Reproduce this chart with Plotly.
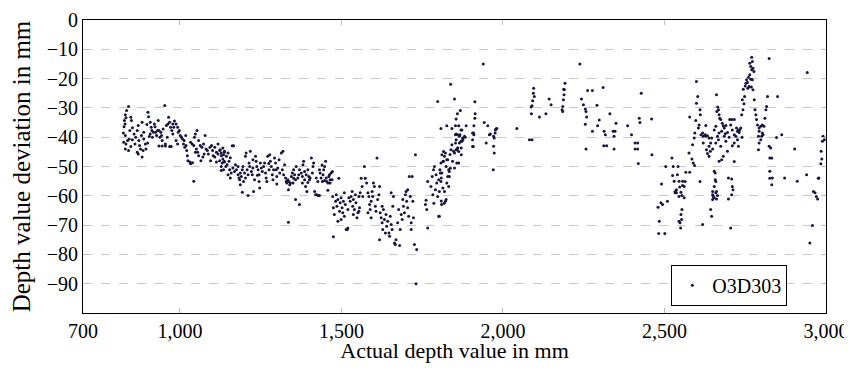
import plotly.graph_objects as go

# Actual depth (mm), depth deviation (mm) pairs, grouped by depth range
seg_820_1140 = [
(841,-29.5),(835,-30.9),(831,-32.3),(833,-33.4),(828,-34.3),(830,-35.5),(827,-36.4),(825,-38.6),(831,-39.4),(826,-41.7),
(833,-42.3),(838,-41.1),(843,-40.6),(848,-33.2),(850,-34.3),(853,-36.8),(831,-44.0),(841,-44.5),(848,-43.2),(853,-40.9),
(845,-37.7),(858,-38.9),(863,-40),(868,-37.7),(871,-36),(873,-41.1),(875,-42.8),(878,-44),(868,-45.1),(871,-45.7),
(883,-46.8),(888,-40.6),(883,-34.9),(893,-42.3),(888,-38.3),(861,-42.3),(881,-39.4),(886,-44.5),(901,-31.5),(903,-33),
(898,-35.7),(908,-34.9),(911,-36.6),(908,-38.9),(913,-37.7),(918,-38.3),(923,-36.4),(928,-39.4),(933,-34.3),(931,-37.7),
(921,-35.5),(895,-44),(905,-39.8),(915,-40),(925,-38.3),(935,-37.7),(941,-38.3),(943,-39.4),(948,-37.2),(953,-29.2),
(955,-42.3),(958,-36),(963,-35.5),(965,-33.2),(968,-34.9),(971,-36.6),(961,-40),(968,-43.2),(973,-43.2),(978,-38.9),
(978,-35.5),(981,-36.6),(975,-37.7),(945,-41.1),(938,-40),(983,-34.5),(988,-35.5),(993,-36.6),(998,-37.7),(1001,-39.4),
(1005,-40),(1008,-40.6),(988,-41.1),(993,-42.3),(1011,-42.3),(1015,-43.4),(1019,-42.8),(1013,-41.1),(1021,-44.5),(1023,-46.3),
(1025,-48),(1031,-48.5),(1033,-49.1),(1018,-39.4),(995,-38.3),(1033,-41.7),(1038,-42.3),(1043,-42.8),(1045,-40),(1048,-38.9),
(1053,-37.7),(1058,-41.1),(1051,-44),(1055,-45.1),(1063,-42.8),(1068,-43.4),(1073,-42.3),(1078,-39.4),(1071,-46.8),(1065,-48),
(1075,-45.7),(1081,-44),(1043,-55),(1058,-46.3),(1048,-45.1),(1085,-44.5),(1088,-45.7),(1093,-43.4),(1098,-42.8),(1101,-44.5),
(1103,-46.3),(1108,-46.8),(1113,-45.1),(1118,-45.7),(1123,-44.5),(1128,-46.3),(1133,-47.4),(1138,-45.1),(1123,-48),(1113,-48.5),
(1108,-43.4),(1128,-51.4),(1138,-48.5),(1095,-48),(1118,-42.3),(935,-43),(945,-43),(955,-43),(1039,-48.7),(900,-42),
]

seg_1120_1475 = [
(1125,-44.3),(1128,-45.4),(1133,-43.7),(1135,-46),(1138,-44.8),(1144,-46.5),(1149,-45.4),(1131,-48.8),(1137,-48.2),(1142,-50),
(1146,-49.4),(1152,-48.2),(1154,-51.1),(1159,-52.2),(1162,-42.9),(1166,-42.9),(1135,-51.1),(1149,-52.8),(1156,-53.9),(1164,-50.5),
(1128,-50),(1169,-51.7),(1175,-51.1),(1180,-52.8),(1183,-53.9),(1185,-54.5),(1187,-52.2),(1190,-53.4),(1193,-51.1),(1195,-50),
(1197,-55.1),(1200,-52.2),(1203,-46.5),(1205,-45.4),(1193,-58.8),(1211,-59.9),(1172,-49.4),(1180,-50),(1187,-56.2),(1203,-53.9),
(1208,-51.1),(1214,-48.8),(1216,-50),(1218,-44.8),(1221,-51.7),(1224,-52.8),(1226,-47.7),(1231,-54.5),(1234,-46.5),(1236,-48.2),
(1238,-50),(1242,-51.1),(1245,-52.8),(1247,-57.3),(1249,-48.8),(1252,-50.5),(1255,-51.7),(1228,-58.5),(1226,-50.5),(1245,-55.1),
(1211,-52.8),(1259,-50),(1262,-48.8),(1265,-52.2),(1267,-53.9),(1272,-46.5),(1276,-51.1),(1278,-46),(1280,-48.2),(1283,-50),
(1286,-52.8),(1288,-54.5),(1293,-47.1),(1296,-48.8),(1298,-51.1),(1300,-53.4),(1303,-50.5),(1307,-47.7),(1309,-52.2),(1269,-55.1),
(1290,-51.1),(1314,-45.4),(1319,-44.8),(1317,-51.1),(1321,-52.8),(1324,-49.4),(1327,-53.9),(1329,-55.1),(1331,-55.6),(1334,-54.5),
(1337,-55.1),(1340,-56.2),(1342,-55.6),(1345,-53.4),(1348,-52.2),(1352,-51.1),(1355,-52.8),(1358,-54.5),(1360,-50),(1350,-55.6),
(1336,-57.9),(1358,-61.3),(1370,-63),(1336,-69),(1365,-53.9),(1368,-52.8),(1370,-51.1),(1376,-52.2),(1379,-53.4),(1381,-49.4),
(1383,-48.2),(1386,-54.5),(1389,-56.8),(1391,-52.8),(1396,-51.1),(1399,-53.4),(1401,-54.5),(1403,-53.9),(1407,-47.1),(1410,-52.2),
(1393,-58.5),(1379,-55.6),(1386,-51.7),(1412,-50),(1414,-48.8),(1417,-58.5),(1420,-59.6),(1424,-59.6),(1428,-59.9),(1432,-59.9),
(1434,-52.2),(1437,-53.9),(1441,-55.1),(1443,-52.8),(1445,-51.1),(1448,-50),(1451,-48.2),(1453,-53.9),(1455,-55.1),(1458,-55.6),
(1461,-53.4),(1463,-52.8),(1465,-54.5),(1472,-51.7),(1422,-53.9),(1427,-55.1),(1432,-51.1),(1458,-58.1),(1156,-47),(1240,-53),
(1300,-56),(1396,-55.5),(1448,-54.8),(1440,-49.5),(1352,-54),(1275,-49),
]

seg_1465_1870 = [
(1468,-52.2),(1471,-54.5),(1465,-55.6),(1473,-60.2),(1475,-64.1),(1478,-66.4),(1482,-61.9),(1475,-74),(1484,-59.6),(1486,-63.6),
(1489,-61.3),(1492,-54),(1494,-65.3),(1496,-62.4),(1499,-60.7),(1502,-64.1),(1504,-65.8),(1506,-61.9),(1509,-59),(1512,-63),
(1515,-71.5),(1518,-71.5),(1520,-71),(1520,-64.7),(1523,-60.7),(1509,-67),(1499,-68.1),(1489,-68.7),(1527,-61.9),(1530,-60.2),
(1533,-58.5),(1535,-63.6),(1537,-61.3),(1540,-64.7),(1543,-59.6),(1545,-62.4),(1551,-65.8),(1554,-60.2),(1556,-64.1),(1561,-54),
(1564,-56.8),(1558,-59),(1548,-67.5),(1566,-60.2),(1537,-66.4),(1554,-65.3),(1571,-50),(1574,-54),(1578,-55.6),(1582,-59),
(1585,-60.2),(1587,-63),(1589,-64.7),(1592,-61.9),(1595,-58.5),(1597,-60.2),(1599,-55.6),(1602,-56.8),(1605,-63.6),(1607,-65.3),
(1610,-47.1),(1612,-61.3),(1616,-59.6),(1618,-56.8),(1592,-67.5),(1582,-65.8),(1620,-65.8),(1623,-67.5),(1626,-69.2),(1628,-71.5),
(1630,-64.7),(1633,-68.1),(1636,-72.7),(1638,-66.4),(1640,-70.4),(1643,-68.7),(1647,-72.7),(1649,-73.8),(1651,-67),(1654,-69.8),
(1657,-71.5),(1659,-63.6),(1661,-60.2),(1664,-76.1),(1667,-76.6),(1669,-75),(1674,-69.2),(1677,-64.7),(1654,-59),(1626,-63.6),
(1682,-71.5),(1685,-66.4),(1688,-68.1),(1690,-61.3),(1692,-63.6),(1695,-65.8),(1698,-59.6),(1700,-58.5),(1702,-61.9),(1705,-64.1),
(1708,-67),(1710,-53.4),(1713,-60.2),(1716,-69.2),(1719,-53.4),(1721,-61.9),(1723,-67.5),(1726,-76.6),(1729,-46),(1733,-78.3),
(1716,-71.5),(1705,-57.9),(1731,-90),(1618,-75),(1680,-77),(1760,-63),(1764,-64.7),(1767,-71),(1767,-55.1),(1777,-56.8),
(1781,-53.4),(1783,-59.6),(1785,-51.1),(1788,-50),(1791,-57.9),(1793,-52.8),(1795,-55.6),(1798,-60.2),(1801,-54.5),(1803,-58.5),
(1805,-51.1),(1808,-48.8),(1811,-52.2),(1814,-57.3),(1816,-48.2),(1819,-46.5),(1822,-45.4),(1824,-50),(1826,-55.6),(1829,-47.7),
(1832,-51.1),(1834,-53.4),(1837,-50.6),(1809,-53.9),(1808,-55.1),(1836,-45.9),(1839,-44.3),(1842,-42.6),(1847,-44.8),(1850,-45.4),
(1853,-42),(1855,-40.9),(1857,-44.3),(1860,-39.2),(1863,-48.8),(1844,-48.2),(1850,-50.5),(1801,-67),(1762,-61.5),(1786,-62.5),
(1809,-61.8),(1818,-62.5),(1824,-61.3),(1810,-63),(1803,-67),(1819,-58.5),(1822,-61.9),
]

seg_1790_2460 = [
(1806,-52.2),(1811,-46),(1814,-48.3),(1816,-44.9),(1826,-47.7),(1829,-53.4),(1832,-56.8),(1834,-51.7),
(1855,-44.3),(1860,-43.7),(1865,-42),(1870,-41.4),(1876,-40.9),(1881,-39.7),(1853,-39.2),(1867,-39.2),(1873,-37.5),(1857,-48.8),
(1863,-44.9),(1871,-46),(1906,-38.6),(1906,-40.9),(1908,-43.2),(1910,-39.2),(1958,-39.2),(1971,-39.7),(1973,-45.4),(1970,-51.1),
(1977,-37.5),(1939,-15),(1798,-27.8),(1838,-21.9),(1850,-27),(1868,-30.9),(1859,-32),(1855,-33.8),(1853,-36.1),(1863,-36.1),
(1870,-37.5),(1808,-37),(1826,-36.1),(1842,-37),(1855,-38.9),(1865,-39.7),(1875,-40.3),(1883,-40),(1886,-36.1),(1873,-41.4),
(1860,-43.7),(1871,-43.7),(1913,-27.9),(1914,-32),(1913,-33.5),(1910,-36.1),(1909,-38.6),(1906,-43.2),(1942,-35),(1953,-36.1),
(1961,-38.9),(1973,-40.3),(1976,-38.6),(1978,-37.2),(1981,-37),(1971,-43.1),(1948,-42),(2043,-37),(2082,-40.9),(2090,-40.9),
(2095,-23.3),(2094,-25),(2097,-26.1),(2092,-27.6),(2090,-29.3),(2088,-32),(2087,-29.7),(2113,-33.1),(2133,-32),(2143,-27),
(2149,-28.9),(2192,-21.6),(2188,-23.6),(2190,-23.8),(2189,-25.5),(2187,-27.2),(2185,-29.5),(2185,-31.2),(2183,-30.6),(2238,-15),
(2243,-27),(2249,-28.9),(2255,-30.4),(2257,-31.2),(2259,-33.1),(2255,-35.6),(2262,-24.1),(2277,-24.1),(2277,-38),(2291,-29.1),
(2298,-34.1),(2293,-36.1),(2257,-44),(2310,-23),(2313,-38),(2317,-39.2),(2312,-42.9),(2321,-42.9),(2331,-32),(2341,-38),
(2344,-39.7),(2347,-38),(2350,-35.2),(2344,-44),(2386,-36.1),(2398,-39.2),(2409,-42),(2417,-42),(2409,-44),(2417,-44),
(2419,-49),(2422,-33.5),(2424,-35),(2428,-25),(2460,-33.8),(2461,-46),
]

seg_2470_3000 = [
(2491,-56),(2504,-50),(2523,-47.1),(2527,-50),(2542,-50),(2525,-53.1),(2540,-52.8),(2545,-55),(2537,-57.9),(2533,-59),
(2556,-55),(2556,-56.5),(2561,-56.8),(2551,-58.8),(2554,-59.9),(2545,-60.2),(2561,-60.7),(2566,-52),(2578,-52),(2576,-45.4),
(2585,-47.4),(2589,-48.8),(2593,-49.7),(2578,-33.1),(2587,-42.6),(2592,-40.3),(2594,-38.6),(2597,-34.3),(2599,-28.4),(2599,-21),
(2603,-26.1),(2607,-35.8),(2605,-36.9),(2610,-30.6),(2611,-32.3),(2613,-39.2),(2618,-38.6),(2620,-39.7),(2626,-39.2),(2628,-39.7),
(2633,-39.5),(2638,-40.3),(2638,-43.1),(2630,-44.3),(2633,-45.6),(2638,-46.5),(2642,-44.8),(2649,-44),(2643,-42),(2646,-40.3),
(2654,-37.5),(2659,-36.3),(2661,-25.5),(2662,-31.2),(2665,-29.7),(2667,-30.6),(2669,-32.3),(2671,-33.5),(2674,-34),(2679,-35.2),
(2682,-36.1),(2685,-36.9),(2677,-38),(2669,-38.6),(2664,-39.7),(2659,-42),(2667,-40.9),(2674,-43.1),(2654,-51.6),(2657,-54.5),
(2654,-56.8),(2659,-59),(2654,-60.7),(2649,-59.6),(2661,-61.1),(2664,-59.9),(2669,-48.2),(2677,-47.7),(2682,-46.5),(2695,-44.8),
(2690,-41.4),(2685,-39.7),(2688,-38.8),(2695,-38.4),(2702,-34),(2708,-34),(2716,-34),(2705,-35.8),(2710,-37.5),(2716,-39.2),
(2721,-39.7),(2726,-38),(2729,-37.5),(2723,-36.9),(2731,-38.4),(2726,-40.9),(2716,-42),(2710,-42.9),(2729,-43.1),(2733,-37.5),
(2736,-36.9),(2739,-32.3),(2743,-30.6),(2746,-28.6),(2741,-27.2),(2748,-26.1),(2744,-23.6),(2750,-22.5),(2752,-21.6),(2757,-21.3),
(2758,-23.3),(2762,-22.7),(2754,-20.4),(2760,-19.5),(2764,-18.7),(2767,-20.2),(2772,-20.4),(2770,-17),(2767,-15.9),(2764,-14.8),
(2770,-12.7),(2772,-14.2),(2774,-16.5),(2777,-17.6),(2769,-22.9),(2774,-23.8),(2778,-27.2),(2780,-30.6),(2783,-32.3),(2785,-34),
(2788,-35.8),(2793,-36.9),(2798,-36.3),(2803,-35.8),(2793,-38),(2791,-39.7),(2798,-40.9),(2801,-39.7),(2805,-39.2),(2808,-36.3),
(2814,-30.6),(2816,-29.5),(2811,-33.5),(2819,-26.1),(2824,-13.1),(2829,-43.7),(2824,-43.1),(2826,-47.1),(2832,-47.1),(2826,-51.6),
(2834,-53.9),(2832,-56.2),(2803,-38.6),(2793,-42),(2791,-44.3),(2850,-26.1),(2847,-40.1),(2863,-39.2),(2903,-44),(2942,-17.9),
(2940,-52.8),(2872,-53.9),(2911,-55),(2978,-53.9),(2984,-49.1),(2987,-47.4),(2985,-44.8),(2991,-39.7),(2995,-40.9),(2989,-41.4),
(2484,-68.7),(2482,-72.9),(2501,-72.9),(2480,-63.9),(2489,-62.4),(2494,-63),(2509,-61.9),(2554,-64.7),(2551,-66.4),(2548,-69.2),
(2550,-71),(2545,-68.7),(2553,-68.1),(2618,-69.8),(2620,-84.9),(2643,-64.7),(2646,-67),(2649,-61.3),(2651,-60.2),(2705,-71),
(2698,-61.1),(2708,-59.6),(2712,-57.9),(2710,-56.8),(2708,-54.3),(2698,-53.9),(2950,-76.1),(2958,-70.1),(2966,-59),(2970,-60.2),
(2974,-61.1),(2961,-58.5),(2976,-54),(2533,-58.5),(2537,-59),(2564,-55.1),(2610,-55.1),(2657,-52.2),(2659,-55.1),(2649,-58.5),
(2661,-58.5),(2716,-48.3),(2826,-54),(2530,-55),(2547,-57),(2690,-36),(2700,-40),(2620,-42),(2628,-36),(2740,-40),
]

all_points = seg_820_1140 + seg_1120_1475 + seg_1465_1870 + seg_1790_2460 + seg_2470_3000
actual_depth = [p[0] for p in all_points]
deviation = [p[1] for p in all_points]

x_ticks = [700, 1000, 1500, 2000, 2500, 3000]
x_tick_text = ["700", "1,000", "1,500", "2,000", "2,500", "3,000"]
y_ticks = [0, -10, -20, -30, -40, -50, -60, -70, -80, -90]
y_tick_text = ["0"] + ["\u2212" + str(-v) for v in y_ticks[1:]]

FONT = "Liberation Serif"

fig = go.Figure()
fig.add_trace(go.Scatter(
    x=actual_depth, y=deviation, mode="markers", name="O3D303",
    marker=dict(size=3, color="#16163e"),
))

# the page body has an 8px default margin; keep the figure inside the window height so nothing scrolls
fig.update_layout(
    width=844, height=355,
    margin=dict(l=75, r=26, t=12, b=50, autoexpand=False),
    paper_bgcolor="white", plot_bgcolor="white",
    font=dict(family=FONT, size=20, color="black"),
    showlegend=True,
    legend=dict(
        x=0.948, y=0.025, xanchor="right", yanchor="bottom",
        bordercolor="black", borderwidth=1, bgcolor="white",
        font=dict(family=FONT, size=20, color="black"),
        itemwidth=30, tracegroupgap=0,
    ),
    xaxis=dict(
        range=[700, 3000], tickvals=x_ticks, ticktext=x_tick_text,
        showgrid=False, zeroline=False, automargin=False, ticklabeloverflow="allow",
        showline=True, linecolor="black", linewidth=1, mirror="ticks",
        ticks="inside", ticklen=5, tickcolor="#bdbdbd",
        title=dict(text="Actual depth value in mm", font=dict(family=FONT, size=22), standoff=14),
        tickfont=dict(family=FONT, size=20),
    ),
    yaxis=dict(
        range=[-100, 0], tickvals=y_ticks, ticktext=y_tick_text,
        showgrid=True, gridcolor="#c8c8c8", griddash="dash", gridwidth=1,
        zeroline=False, automargin=False,
        showline=True, linecolor="black", linewidth=1, mirror="ticks",
        ticks="inside", ticklen=5, tickcolor="#bdbdbd",
        title=dict(text="Depth value deviation in mm", font=dict(family=FONT, size=25), standoff=11),
        tickfont=dict(family=FONT, size=20),
    ),
)

fig.write_html("out.html")
